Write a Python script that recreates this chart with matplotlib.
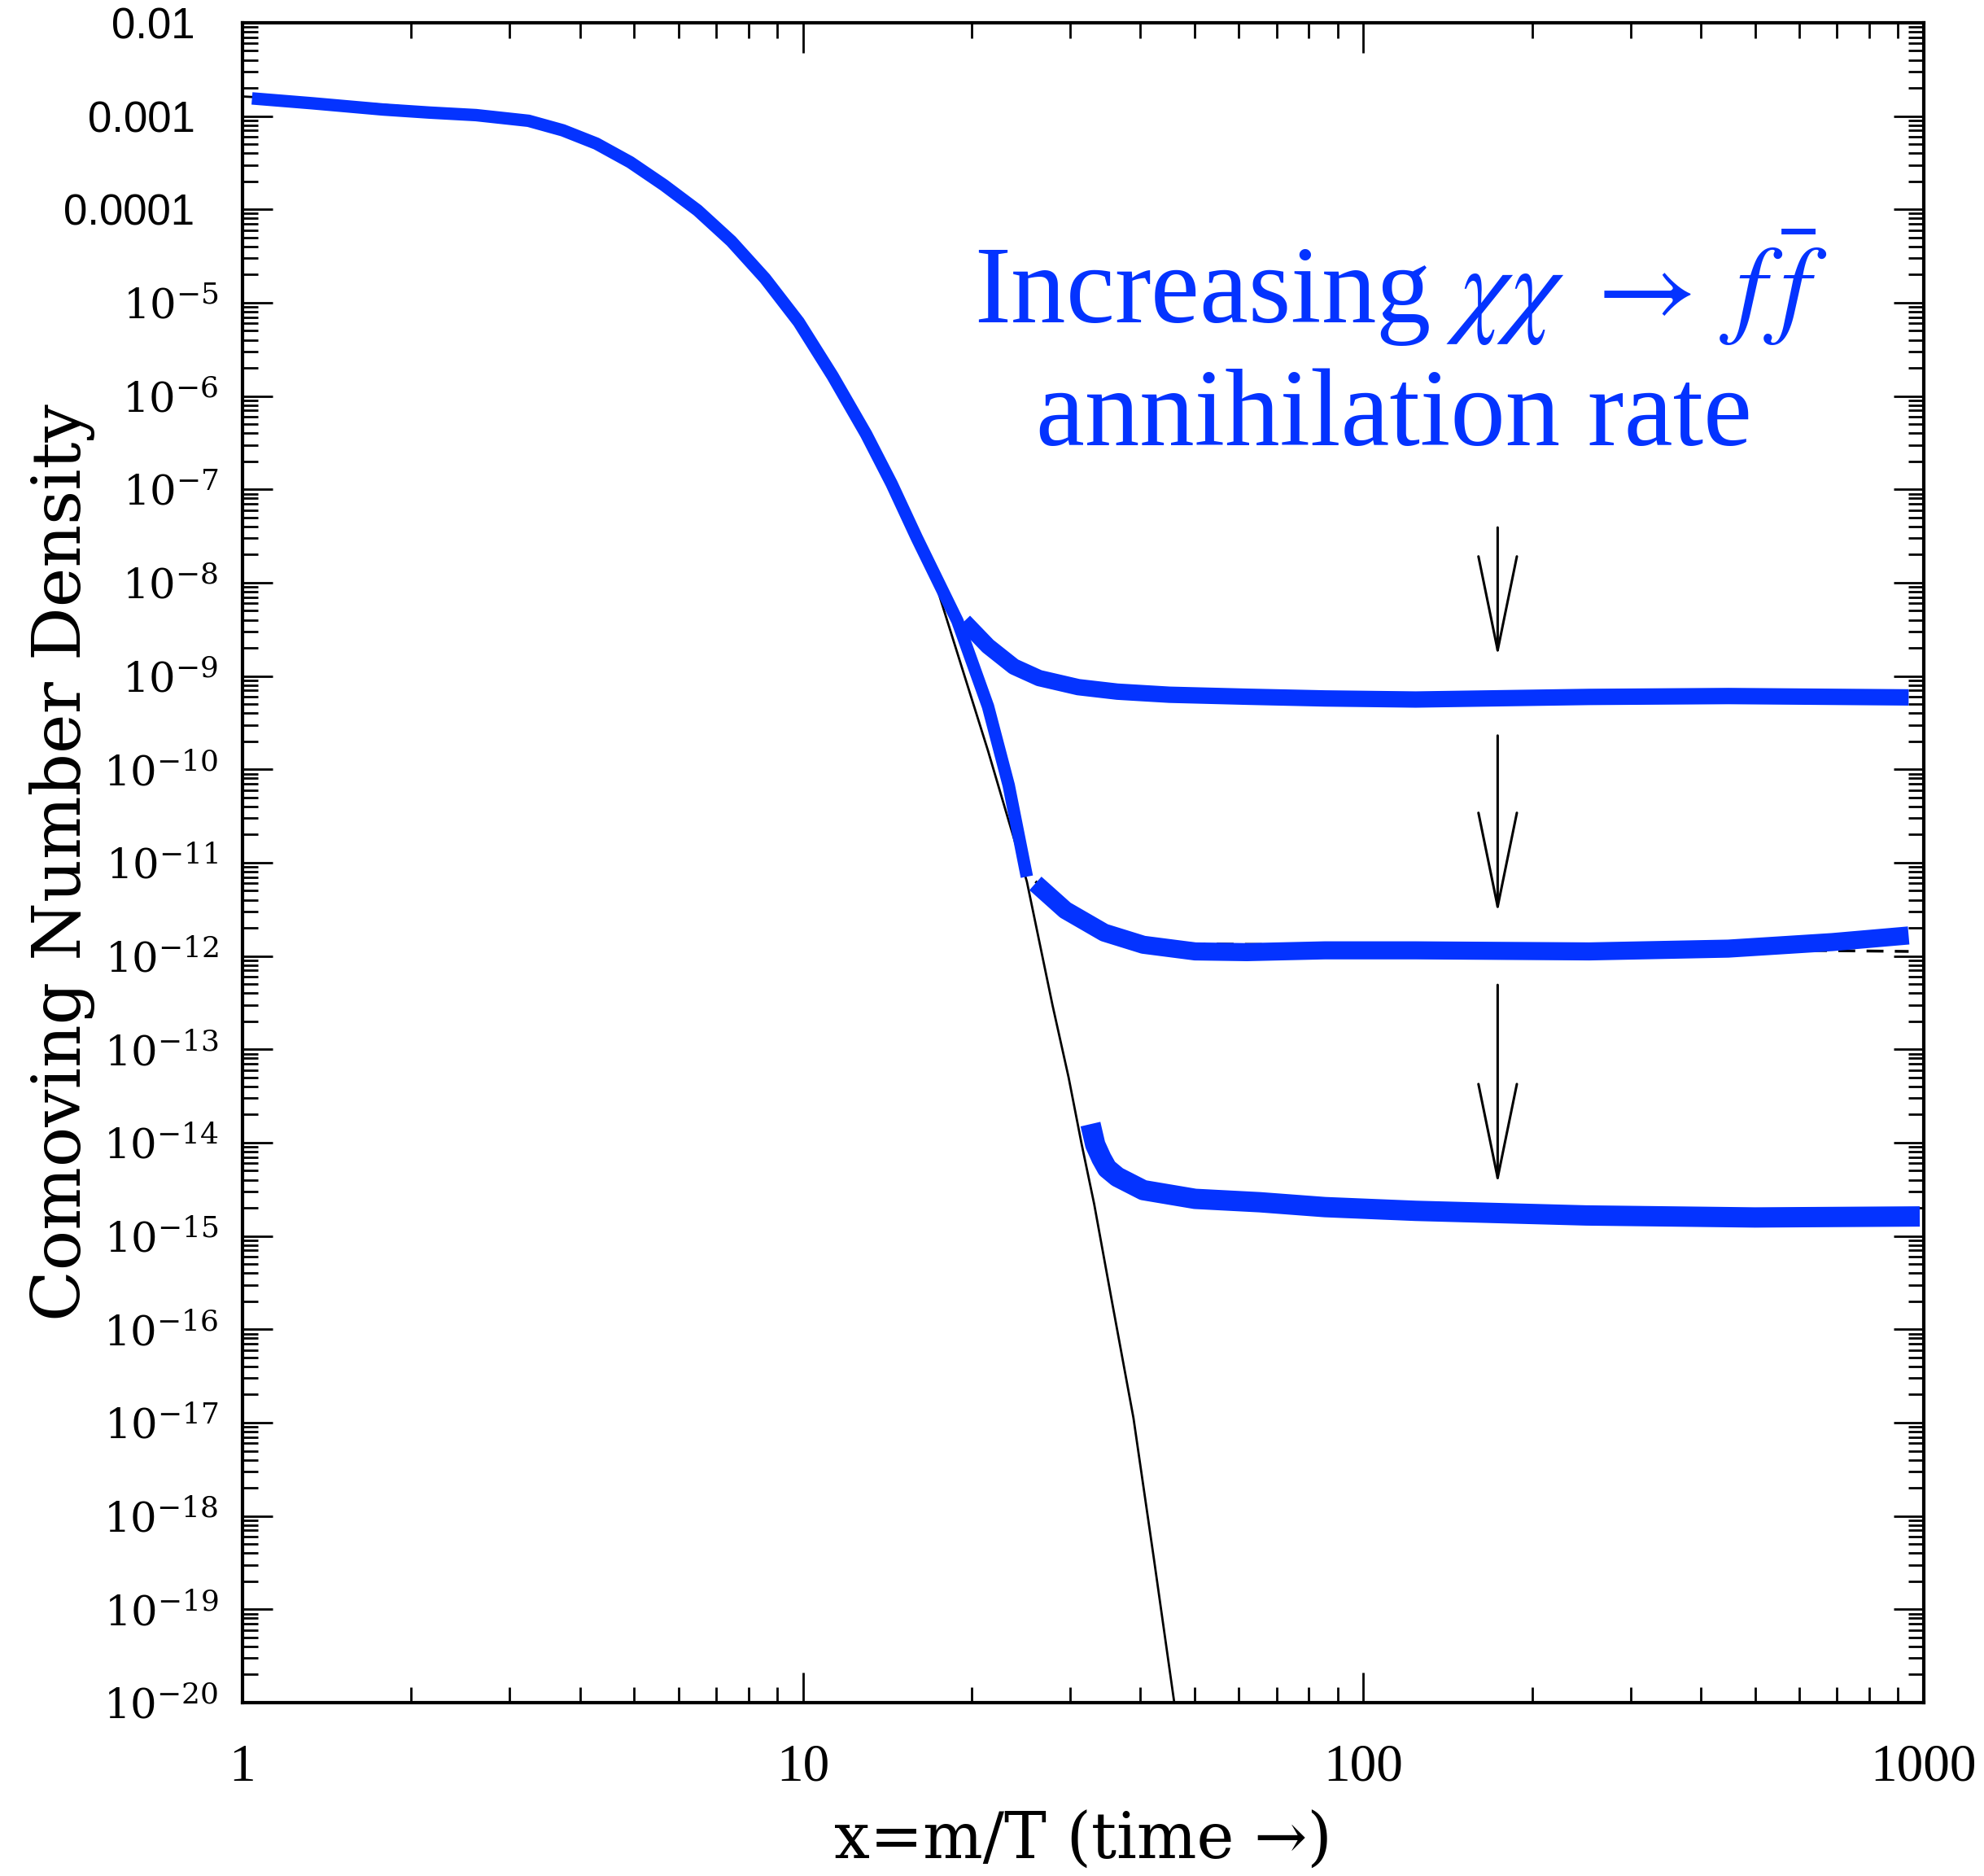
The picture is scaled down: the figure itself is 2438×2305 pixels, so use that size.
import matplotlib

matplotlib.use("Agg")

import matplotlib.pyplot as plt  # noqa: E402
import numpy as np  # noqa: E402
from matplotlib.ticker import LogLocator, NullFormatter  # noqa: E402

plt.rcParams["mathtext.fontset"] = "dejavuserif"

BLUE = "#0433ff"

# equilibrium curve (thin black)
x_eq = [1.0, 1.33, 1.78, 2.61, 3.24, 4.28, 5.65, 7.45, 9.83, 12.97, 15.97,
        17.3, 19.2, 21.4, 23.3, 25.1, 27.9, 29.8, 31.4, 33.1, 35.6, 38.9,
        42.3, 46.0]
y_eq = [1.62e-3, 1.48e-3, 1.32e-3, 1.10e-3, 9.1e-4, 5.1e-4, 1.82e-4, 4.57e-5,
        6.2e-6, 3.8e-7, 2.8e-8, 9.3e-9, 1.26e-9, 1.58e-10, 2.8e-11, 6.3e-12,
        2.95e-13, 5.0e-14, 1.0e-14, 2.2e-15, 2.0e-16, 1.12e-17, 3.5e-19,
        1.0e-20]

# dashed relic curve, mostly hidden under the middle branch
x_dash = [26.0, 29.4, 34.5, 38.4, 49.5, 73.6, 124, 450, 940]
y_dash = [6.3e-12, 3.4e-12, 2.05e-12, 1.58e-12, 1.35e-12, 1.32e-12,
          1.26e-12, 1.17e-12, 1.12e-12]

# blue main curve
x_main = [1.04, 1.33, 1.78, 2.155, 2.61, 3.24, 3.73, 4.28, 4.92, 5.65, 6.49,
          7.45, 8.56, 9.83, 11.3, 12.97, 14.4, 15.97, 18.87, 21.4, 23.3, 25.1]
y_main = [1.545e-3, 1.371e-3, 1.175e-3, 1.089e-3, 1.023e-3, 8.89e-4, 7.03e-4,
          5.07e-4, 3.20e-4, 1.82e-4, 9.75e-5, 4.57e-5, 1.82e-5, 6.21e-6,
          1.64e-6, 3.90e-7, 1.15e-7, 3.02e-8, 3.89e-9, 4.71e-10, 6.73e-11,
          7.08e-12]

# blue branches for increasing annihilation rate
x_top = [19.4, 21.4, 23.8, 26.4, 31.0, 36.4, 45.1, 62.0, 85.4, 124, 253, 448, 940]
y_top = [3.85e-9, 2.09e-9, 1.26e-9, 9.5e-10, 7.6e-10, 6.8e-10, 6.3e-10,
         6.0e-10, 5.75e-10, 5.6e-10, 5.97e-10, 6.1e-10, 5.9e-10]

x_mid = [26.0, 29.4, 34.5, 40.5, 50.1, 62.0, 85.4, 124, 253, 448, 687, 940]
y_mid = [6.0e-12, 3.1e-12, 1.78e-12, 1.32e-12, 1.12e-12, 1.10e-12, 1.15e-12,
         1.15e-12, 1.12e-12, 1.2e-12, 1.41e-12, 1.66e-12]

x_low = [32.6, 33.25, 34.1, 34.9, 36.4, 40.5, 50.1, 65.4, 85.4, 124, 250, 500, 984]
y_low = [1.58e-14, 9.5e-15, 6.8e-15, 5.3e-15, 4.3e-15, 3.1e-15, 2.5e-15,
         2.3e-15, 2.04e-15, 1.86e-15, 1.66e-15, 1.58e-15, 1.62e-15]

# arrows
arrow_x = 173.7
arrow_start = [3.9e-8, 2.3e-10, 4.9e-13]
arrow_tip = [1.62e-9, 2.9e-12, 3.6e-15]

x_ticks = [1, 10, 100, 1000]
x_tick_labels = ["1", "10", "100", "1000"]
y_ticks = [10.0 ** e for e in range(-20, -1)]
y_tick_labels = [f"$10^{{{e}}}$" for e in range(-20, -4)] + ["0.0001  ", "0.001  ", "0.01  "]

fig = plt.figure(figsize=(24.38, 23.05), dpi=100)
ax = fig.add_axes([0.1222, 0.0924, 0.8474, 0.8955])
ax.set_xscale("log")
ax.set_yscale("log")

ax.plot(x_eq, y_eq, color="black", lw=2, zorder=2)
ax.plot(x_dash, y_dash, color="black", lw=2.5, ls=(0, (6, 4)), zorder=2)
for xs, ys, lw in [(x_main, y_main, 11), (x_top, y_top, 14.5),
                   (x_mid, y_mid, 16), (x_low, y_low, 18)]:
    ax.plot(xs, ys, color=BLUE, lw=lw, solid_capstyle="butt",
            solid_joinstyle="round", zorder=3)

for y0, y1 in zip(arrow_start, arrow_tip):
    ax.annotate("", xy=(arrow_x, y1), xytext=(arrow_x, y0),
                arrowprops=dict(arrowstyle="->,head_length=83,head_width=17",
                                mutation_scale=1, lw=2.2, color="black",
                                shrinkA=0, shrinkB=0))

ax.set_xlim(1, 1000)
ax.set_ylim(1e-20, 1e-2)

ax.set_xticks(x_ticks, x_tick_labels)
ax.set_yticks(y_ticks, y_tick_labels)
ax.xaxis.set_minor_locator(LogLocator(base=10, subs=np.arange(2, 10), numticks=100))
ax.yaxis.set_minor_locator(LogLocator(base=10, subs=np.arange(2, 10), numticks=100))
ax.xaxis.set_minor_formatter(NullFormatter())
ax.yaxis.set_minor_formatter(NullFormatter())

ax.tick_params(which="both", direction="in", top=True, right=True, width=2)
ax.tick_params(which="major", length=26.6)
ax.tick_params(which="minor", length=13.7)
ax.tick_params(axis="x", which="major", pad=36, labelsize=47,
               labelfontfamily="Liberation Serif")
ax.tick_params(axis="y", which="major", pad=21, labelsize=37)
for lbl in ax.get_yticklabels():
    if not lbl.get_text().startswith("$"):
        lbl.set_fontfamily("Liberation Sans")
        lbl.set_fontsize(38)

for sp in ax.spines.values():
    sp.set_linewidth(3)

ax.set_ylabel("Comoving Number Density", fontsize=59, family="DejaVu Serif")
ax.yaxis.set_label_coords(-0.0876, 0.5)
ax.set_xlabel("x=m/T (time \u2192)", fontsize=56,
              family=["DejaVu Serif", "DejaVu Sans"])
ax.xaxis.set_label_coords(0.5, -0.064)

ax.text(0.689, 0.821, r"Increasing $\chi\chi\;\rightarrow\;f\,\bar{f}$",
        transform=ax.transAxes, ha="center", va="baseline", fontsize=97,
        family="Liberation Serif", color=BLUE, math_fontfamily="stix")
ax.text(0.685, 0.7485, "annihilation rate", transform=ax.transAxes,
        ha="center", va="baseline", fontsize=97, family="Liberation Serif",
        color=BLUE)

fig.savefig("out.png", dpi=100)
